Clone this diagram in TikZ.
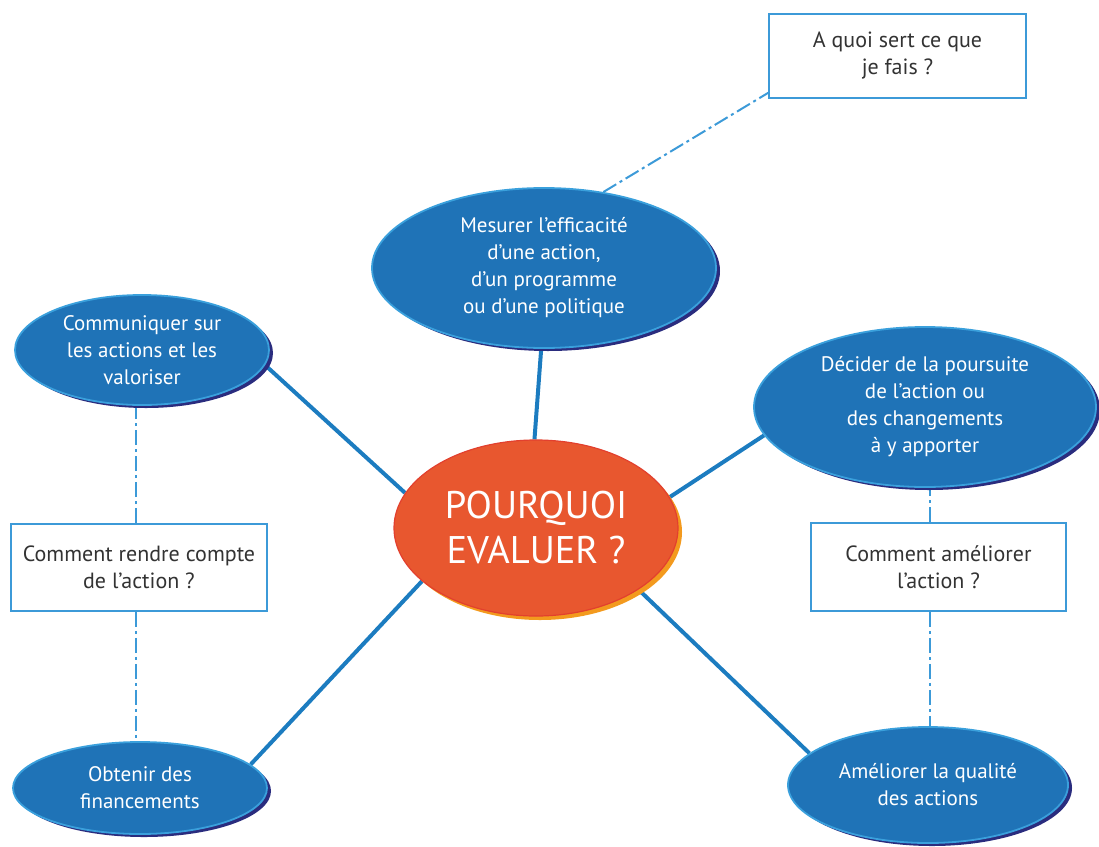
\documentclass[tikz,border=0pt]{standalone}
\usepackage{fontspec}
\setmainfont{PT Sans}
\usetikzlibrary{shapes.geometric,backgrounds,shadows}
\definecolor{blfill}{HTML}{1F73B7}
\definecolor{blrim}{HTML}{3AA0DC}
\definecolor{blshadow}{HTML}{2A2C7E}
\definecolor{conn}{HTML}{1C7CC0}
\definecolor{boxline}{HTML}{3C9AD8}
\definecolor{orfill}{HTML}{E8572F}
\definecolor{orrim}{HTML}{E2402E}
\definecolor{orshadow}{HTML}{F39A1E}
\definecolor{txtgray}{HTML}{333333}
\begin{document}
\begin{tikzpicture}[x=1pt,y=-1pt,
  goal/.style={ellipse, fill=blfill, draw=blrim, line width=1.8pt, text=white, align=center,
    inner sep=0pt, font=\fontsize{21}{27}\selectfont,
    drop shadow={shadow xshift=4pt, shadow yshift=-3pt, fill=blshadow, opacity=1}},
  core/.style={ellipse, fill=orfill, draw=orrim, line width=1.2pt, text=white, align=center,
    inner sep=0pt, font=\fontsize{38.5}{45}\selectfont,
    drop shadow={shadow xshift=4pt, shadow yshift=-4pt, fill=orshadow, opacity=1}},
  qbox/.style={rectangle, draw=boxline, line width=1.6pt, fill=white, text=txtgray, align=center,
    inner sep=0pt, font=\fontsize{22}{27}\selectfont},
  link/.style={draw=conn, line width=4pt},
  dashlink/.style={draw=boxline, line width=2pt, dash pattern=on 15pt off 4pt on 3pt off 4pt}]
\useasboundingbox (0,0) rectangle (1099,846);

\node[goal, minimum width=344pt, minimum height=160pt] (mes) at (544,268)
  {Mesurer l’efficacité\\d’une action,\\d’un programme\\ou d’une politique};
\node[goal, minimum width=254pt, minimum height=110pt] (com) at (142,350)
  {Communiquer sur\\les actions et les\\valoriser};
\node[goal, minimum width=342pt, minimum height=160pt] (dec) at (925,407)
  {Décider de la poursuite\\de l’action ou\\des changements\\à y apporter};
\node[goal, minimum width=254pt, minimum height=92pt] (obt) at (140,788)
  {Obtenir des\\financements};
\node[goal, minimum width=280pt, minimum height=116pt] (ame) at (928,785)
  {Améliorer la qualité\\des actions};
\node[core, minimum width=284pt, minimum height=176pt] (ctr) at (536,528)
  {POURQUOI\\EVALUER ?};

\node[qbox, minimum width=257pt, minimum height=84pt] (aq) at (897.5,56)
  {A quoi sert ce que\\je fais ?};
\node[qbox, minimum width=256pt, minimum height=87pt] (bl) at (139,567.5)
  {Comment rendre compte\\de l’action ?};
\node[qbox, minimum width=255pt, minimum height=88pt] (br) at (938.5,567)
  {Comment améliorer\\l’action ?};

\begin{scope}[on background layer]
  \draw[link] (mes.-92) -- (ctr.91);
  \draw[link] (com.-7) -- (ctr.165);
  \draw[link] (dec.190.6) -- (ctr.13);
  \draw[link] (obt.12.6) -- (ctr.205.4);
  \draw[link] (ame.165) -- (ctr.-31.6);
  \draw[dashlink] (mes.52) -- ([yshift=6pt]aq.south west);
  \draw[dashlink] ([xshift=-3pt]bl.north) -- ([xshift=-3pt]bl.north |- com.south);
  \draw[dashlink] ([xshift=-3pt]bl.south) -- ([xshift=-3pt]bl.south |- obt.north);
  \draw[dashlink] ([xshift=-8.5pt]br.north) -- ([xshift=-8.5pt]br.north |- dec.south);
  \draw[dashlink] ([xshift=-8.5pt]br.south) -- ([xshift=-8.5pt]br.south |- ame.north);
\end{scope}
\end{tikzpicture}
\end{document}
